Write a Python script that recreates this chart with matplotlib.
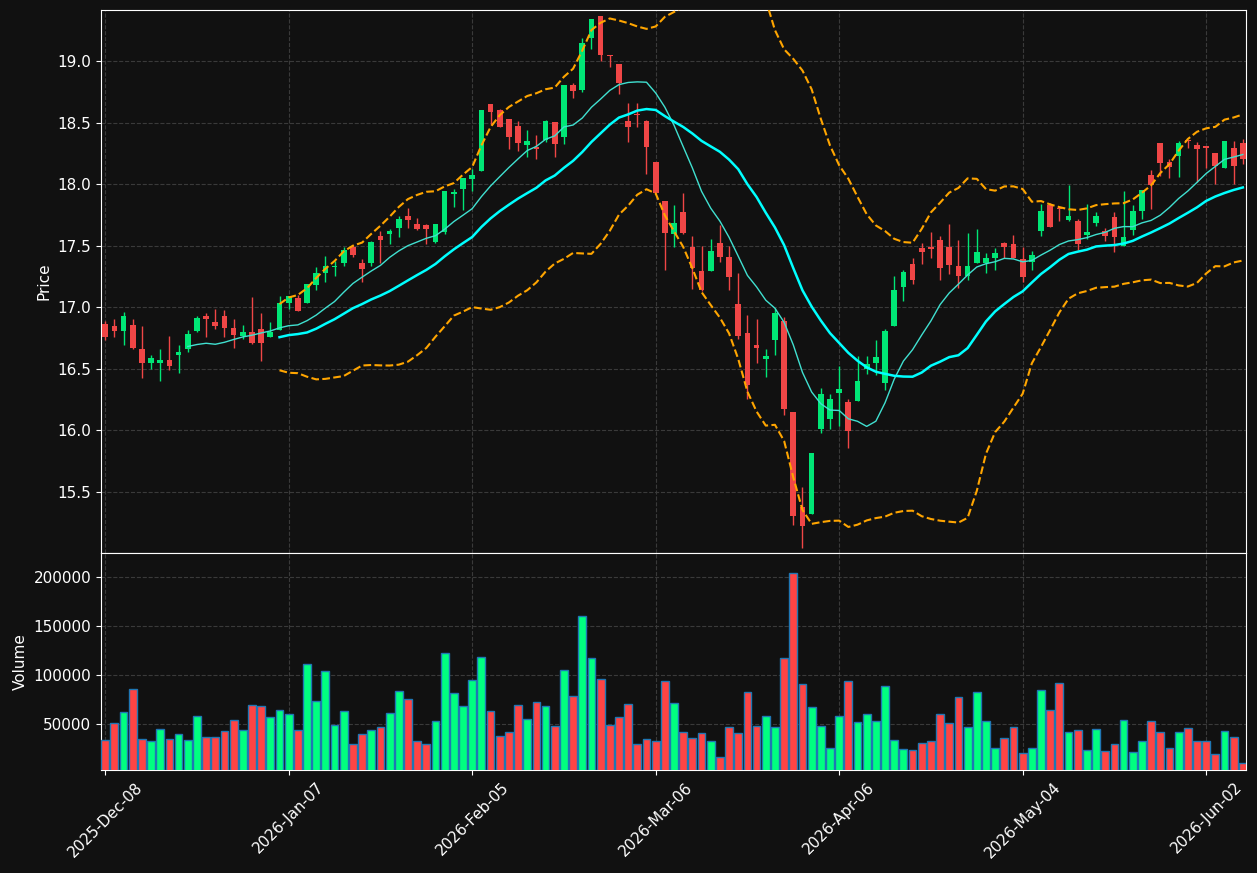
import numpy as np
import pandas as pd
import matplotlib
matplotlib.use("Agg")
import matplotlib.pyplot as plt

# -------------------------
# Datos OHLC + volumen
# -------------------------
opens = [16.868, 16.849, 16.804, 16.858, 16.664, 16.546, 16.546, 16.570, 16.616, 16.664,
         16.809, 16.930, 16.882, 16.930, 16.833, 16.769, 16.801, 16.822, 16.760, 16.817,
         17.036, 17.077, 17.036, 17.183, 17.276, 17.325, 17.358, 17.492, 17.363, 17.358,
         17.582, 17.596, 17.642, 17.738, 17.675, 17.665, 17.527, 17.608, 17.917, 17.957,
         18.038, 18.110, 18.648, 18.599, 18.527, 18.470, 18.315, 18.304, 18.355, 18.503,
         18.384, 18.801, 18.762, 19.189, 19.368, 19.049, 18.978, 18.516, 18.573, 18.516,
         18.176, 17.859, 17.595, 17.770, 17.486, 17.297, 17.297, 17.519, 17.412, 17.030,
         16.787, 16.691, 16.580, 16.734, 16.886, 16.147, 15.378, 15.319, 16.014, 16.095,
         16.301, 16.233, 16.239, 16.496, 16.547, 16.385, 16.848, 17.164, 17.348, 17.485,
         17.493, 17.549, 17.493, 17.339, 17.252, 17.358, 17.358, 17.398, 17.525, 17.517,
         17.395, 17.366, 17.617, 17.833, 17.808, 17.706, 17.704, 17.586, 17.681, 17.621,
         17.735, 17.497, 17.627, 17.780, 18.077, 18.336, 18.179, 18.225, 18.360, 18.319,
         18.311, 18.255, 18.128, 18.295, 18.336]
highs = [16.892, 16.903, 16.960, 16.903, 16.849, 16.613, 16.661, 16.769, 16.694, 16.817,
         16.927, 16.952, 16.984, 16.976, 16.903, 16.855, 17.081, 16.951, 16.880, 17.090,
         17.090, 17.098, 17.191, 17.328, 17.418, 17.377, 17.492, 17.503, 17.393, 17.538,
         17.623, 17.634, 17.738, 17.803, 17.721, 17.680, 17.672, 17.946, 17.960, 18.051,
         18.121, 18.599, 18.648, 18.613, 18.527, 18.516, 18.438, 18.398, 18.524, 18.503,
         18.801, 18.820, 19.184, 19.343, 19.368, 19.049, 18.978, 18.659, 18.659, 18.524,
         18.176, 17.859, 17.832, 17.924, 17.581, 17.500, 17.557, 17.670, 17.500, 17.278,
         16.940, 16.907, 16.664, 16.991, 16.924, 16.147, 15.543, 15.814, 16.347, 16.293,
         16.523, 16.258, 16.604, 16.604, 16.731, 16.821, 17.256, 17.300, 17.403, 17.522,
         17.611, 17.576, 17.676, 17.549, 17.603, 17.636, 17.441, 17.482, 17.533, 17.587,
         17.493, 17.460, 17.841, 17.849, 17.808, 17.995, 17.719, 17.840, 17.775, 17.646,
         17.775, 17.945, 17.832, 17.955, 18.115, 18.336, 18.204, 18.349, 18.360, 18.341,
         18.311, 18.255, 18.352, 18.349, 18.368]
lows = [16.731, 16.758, 16.691, 16.660, 16.425, 16.500, 16.403, 16.489, 16.465, 16.634,
        16.801, 16.758, 16.820, 16.761, 16.667, 16.742, 16.700, 16.565, 16.755, 16.815,
        16.984, 16.973, 17.036, 17.137, 17.205, 17.254, 17.336, 17.407, 17.205, 17.336,
        17.363, 17.516, 17.574, 17.645, 17.631, 17.510, 17.519, 17.597, 17.812, 17.790,
        17.944, 18.110, 18.476, 18.465, 18.282, 18.266, 18.223, 18.202, 18.339, 18.218,
        18.323, 18.702, 18.746, 19.095, 19.000, 18.951, 18.732, 18.343, 18.465, 18.084,
        17.927, 17.305, 17.492, 17.595, 17.151, 17.130, 17.297, 17.370, 17.141, 16.743,
        16.252, 16.550, 16.436, 16.615, 16.122, 15.229, 15.048, 15.319, 15.976, 16.009,
        16.036, 15.860, 16.239, 16.458, 16.453, 16.331, 16.848, 17.053, 17.191, 17.352,
        17.398, 17.223, 17.271, 17.158, 17.223, 17.358, 17.279, 17.304, 17.404, 17.398,
        17.204, 17.301, 17.576, 17.649, 17.700, 17.698, 17.463, 17.557, 17.659, 17.538,
        17.451, 17.497, 17.584, 17.713, 17.799, 18.063, 18.050, 18.058, 18.290, 18.020,
        18.128, 18.001, 18.128, 18.001, 18.163]
closes = [16.755, 16.804, 16.930, 16.667, 16.546, 16.591, 16.570, 16.527, 16.640, 16.785,
          16.914, 16.906, 16.849, 16.828, 16.772, 16.801, 16.707, 16.712, 16.801, 17.036,
          17.090, 16.973, 17.191, 17.281, 17.339, 17.336, 17.462, 17.423, 17.314, 17.533,
          17.546, 17.623, 17.716, 17.710, 17.637, 17.636, 17.672, 17.946, 17.938, 18.051,
          18.075, 18.599, 18.583, 18.465, 18.382, 18.336, 18.349, 18.288, 18.511, 18.328,
          18.801, 18.755, 19.149, 19.343, 19.046, 19.038, 18.819, 18.462, 18.559, 18.300,
          17.927, 17.603, 17.681, 17.603, 17.319, 17.138, 17.454, 17.408, 17.246, 16.765,
          16.369, 16.669, 16.602, 16.951, 16.174, 15.305, 15.224, 15.814, 16.293, 16.252,
          16.334, 15.995, 16.398, 16.537, 16.596, 16.804, 17.137, 17.283, 17.219, 17.447,
          17.476, 17.317, 17.347, 17.252, 17.339, 17.452, 17.404, 17.444, 17.493, 17.398,
          17.244, 17.428, 17.784, 17.649, 17.795, 17.744, 17.512, 17.608, 17.743, 17.578,
          17.570, 17.567, 17.778, 17.955, 17.996, 18.168, 18.141, 18.336, 18.346, 18.282,
          18.290, 18.144, 18.352, 18.144, 18.201]
volumes = [33370, 50700, 61940, 85410, 34390, 32350, 44590, 34390, 39490, 33370,
           57860, 36430, 36430, 42550, 53780, 43570, 69080, 68060, 56840, 63980,
           59900, 43570, 110920, 73170, 103780, 48680, 62960, 29290, 39490, 43570,
           46630, 60920, 83370, 75210, 32350, 29290, 52760, 122140, 81330, 68060,
           94590, 118060, 62960, 37450, 41530, 69080, 54800, 72150, 68060, 47650,
           104800, 78270, 159900, 117040, 95610, 48680, 56840, 70100, 29290, 34390,
           32350, 93570, 71120, 41530, 35410, 40510, 32350, 16030, 46630, 40510,
           82350, 47650, 57860, 46630, 117040, 203770, 90510, 67040, 47650, 25210,
           57860, 93570, 51740, 59900, 52760, 88470, 33370, 24190, 23170, 30310,
           32350, 59900, 50700, 77250, 46630, 82350, 52760, 25210, 35410, 46630,
           20100, 25210, 84390, 63980, 91530, 41530, 43570, 23170, 44590, 22150,
           29290, 53780, 21130, 32350, 52760, 41530, 25210, 41530, 45610, 32350,
           32350, 19080, 42550, 36430, 9900]

tick_pos = [0, 20, 40, 60, 80, 100, 120]
tick_labels = ['2025-Dec-08', '2026-Jan-07', '2026-Feb-05', '2026-Mar-06',
               '2026-Apr-06', '2026-May-04', '2026-Jun-02']

df = pd.DataFrame({'Open': opens, 'High': highs, 'Low': lows,
                   'Close': closes, 'Volume': volumes})
x = np.arange(len(df))

# medias moviles y bandas de Bollinger (20, 2 sigma)
ma10 = df['Close'].rolling(10).mean()
ma20 = df['Close'].rolling(20).mean()
std20 = df['Close'].rolling(20).std(ddof=0)
bb_up = ma20 + 2 * std20
bb_lo = ma20 - 2 * std20

# colores
bg = '#111111'
up_c = '#00e676'
dn_c = '#f04646'
vol_up = '#00ff80'
vol_dn = '#ff4444'

up = df['Close'] >= df['Open']
cols = np.where(up, up_c, dn_c)
vcols = np.where(up, vol_up, vol_dn)

fig = plt.figure(figsize=(12.57, 8.73), dpi=100, facecolor=bg)
ax = fig.add_axes([0.0804, 0.3666, 0.9109, 0.6220])
axv = fig.add_axes([0.0804, 0.1180, 0.9109, 0.2486], sharex=ax)

for a in (ax, axv):
    a.set_facecolor(bg)
    for s in a.spines.values():
        s.set_color('white')
    a.tick_params(colors='white', labelsize=11)
    a.grid(True, color='#3a3a3a', linestyle='--', linewidth=0.8)
    a.set_axisbelow(True)

# velas
ax.vlines(x, df['Low'], df['High'], colors=cols, linewidth=1.0, zorder=3)
body_bot = np.minimum(df['Open'], df['Close'])
body_h = np.maximum(np.abs(df['Close'] - df['Open']), 0.006)
ax.bar(x, body_h, bottom=body_bot, width=0.62, color=cols, linewidth=0, zorder=4)

# indicadores
ax.plot(x, ma10, color='#40e0d0', linewidth=1.0, zorder=5)
ax.plot(x, ma20, color='#00ffff', linewidth=1.8, zorder=5)
ax.plot(x, bb_up, color='#ffa500', linewidth=1.5, linestyle='--', zorder=5)
ax.plot(x, bb_lo, color='#ffa500', linewidth=1.5, linestyle='--', zorder=5)

ax.set_ylim(15.005, 19.414)
ax.set_yticks(np.arange(15.5, 19.01, 0.5))
ax.set_ylabel('Price', color='white', fontsize=11)
plt.setp(ax.get_xticklabels(), visible=False)

# volumen
axv.bar(x, df['Volume'], width=0.85, color=vcols, edgecolor='#1f77b4', linewidth=1.0, zorder=3)
axv.set_ylim(0.3 * df['Volume'].min(), 1.1 * df['Volume'].max())
axv.set_yticks([50000, 100000, 150000, 200000])
axv.set_yticklabels(['50000', '100000', '150000', '200000'])
axv.set_ylabel('Volume', color='white', fontsize=11)

axv.set_xlim(-0.45, 124.35)
axv.set_xticks(tick_pos)
axv.set_xticklabels(tick_labels, rotation=45, ha='center')

fig.savefig('out.png', dpi=100, facecolor=bg)
